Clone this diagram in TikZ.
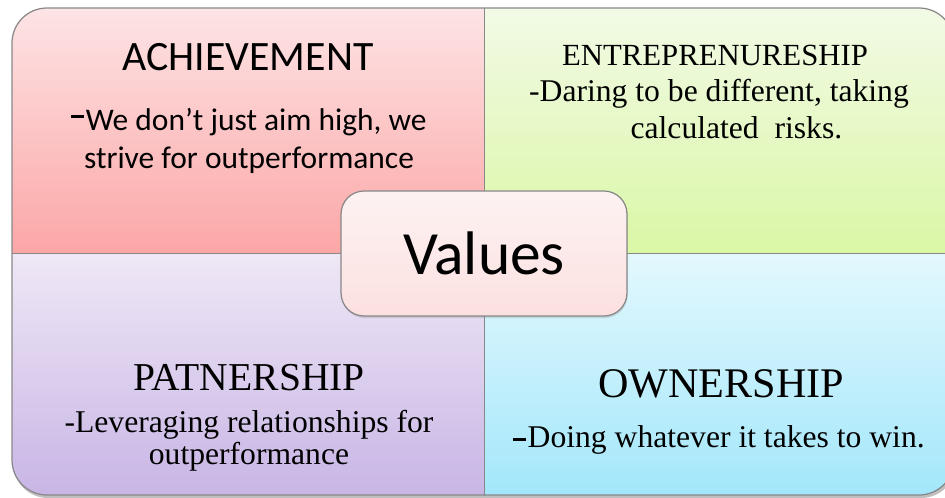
\documentclass[tikz,border=0pt]{standalone}
\usepackage{fontspec}
\setmainfont{Liberation Serif}
\newfontfamily\calibri{Carlito}
\usepackage{xcolor}
\usetikzlibrary{positioning,shadows}

\definecolor{achtop}{HTML}{FDE4E5}
\definecolor{achbot}{HTML}{FCA6A6}
\definecolor{enttop}{HTML}{F2FAE6}
\definecolor{entbot}{HTML}{DAF7A5}
\definecolor{pattop}{HTML}{EFE8F6}
\definecolor{patbot}{HTML}{C8B5E5}
\definecolor{owntop}{HTML}{E3F8FD}
\definecolor{ownbot}{HTML}{A3E7FB}
\definecolor{valtop}{HTML}{FDF2F2}
\definecolor{valbot}{HTML}{FCE0E0}
\definecolor{rim}{HTML}{888888}

% heavy bullet dash, raised by #1
\newcommand{\bardash}[1]{\rule[#1]{7.2pt}{1.7pt}\hspace{1pt}}

\begin{document}
\begin{tikzpicture}[x=0.02cm,y=-0.02cm]
  \tikzstyle{quad}=[rectangle,inner sep=0pt,anchor=north west,minimum width=9.44cm,minimum height=4.9cm]
  \tikzstyle{edge}=[draw=rim,line width=0.7pt]
  \tikzstyle{txt}=[anchor=base,inner sep=0pt,align=center,font=\fontsize{18}{20.5}\selectfont]
  \tikzstyle{head}=[anchor=base,inner sep=0pt,font=\fontsize{24}{28}\selectfont]
  \useasboundingbox (0,0) rectangle (945,497);

  % soft shadow under the panel
  \fill[black!25,rounded corners=0.7cm] (13,10) rectangle (956,498);
  \begin{scope}
    \clip[rounded corners=0.7cm] (12,8) rectangle (954,495);
    \node[quad,top color=achtop,bottom color=achbot] (ach) at (12,8) {};
    \node[quad,top color=enttop,bottom color=entbot,minimum width=9.4cm] (ent) at (484,8) {};
    \node[quad,top color=pattop,bottom color=patbot,minimum height=4.84cm] (pat) at (12,253) {};
    \node[quad,top color=owntop,bottom color=ownbot,minimum width=9.4cm,minimum height=4.84cm] (own) at (484,253) {};
  \end{scope}
  \draw[edge,rounded corners=0.7cm] (12,8) rectangle (954,495);
  \draw[edge] (ach.north east) -- (pat.south east);
  \draw[edge] (ach.south west) -- (ent.south east);

  % headings and texts
  \node[head,font=\calibri\fontsize{23.8}{28}\selectfont] (achhead) at (248,70) {ACHIEVEMENT};
  \node[txt,font=\calibri\fontsize{17.9}{21.5}\selectfont] (achtxt) at (249,168) {\bardash{6.8pt}We don’t just aim high, we\\strive for outperformance};
  \node[head,font=\fontsize{17.5}{20}\selectfont] (enthead) at (715,65) {ENTREPRENURESHIP};
  \node[txt] (enttxt) at (719,138) {-Daring to be different, taking\\\hspace*{1.1em}calculated~ risks.};
  \node[head,font=\fontsize{22.5}{26}\selectfont] (pathead) at (249,390) {PATNERSHIP};
  \node[txt,font=\fontsize{18}{18.2}\selectfont] (pattxt) at (249,464) {-Leveraging relationships for\\outperformance};
  \node[head] (ownhead) at (721,397) {OWNERSHIP};
  \node[txt] (owntxt) at (719,447) {\bardash{3.3pt}Doing whatever it takes to win.};

  % centre box
  \node[draw=rim,line width=0.7pt,rounded corners=0.46cm,top color=valtop,bottom color=valbot,
        minimum width=5.72cm,minimum height=2.5cm,font=\calibri\fontsize{35}{40}\selectfont,
        drop shadow={opacity=0.25,shadow xshift=0.4pt,shadow yshift=-1.2pt}] (val) at (484,253.5) {Values};
\end{tikzpicture}
\end{document}
